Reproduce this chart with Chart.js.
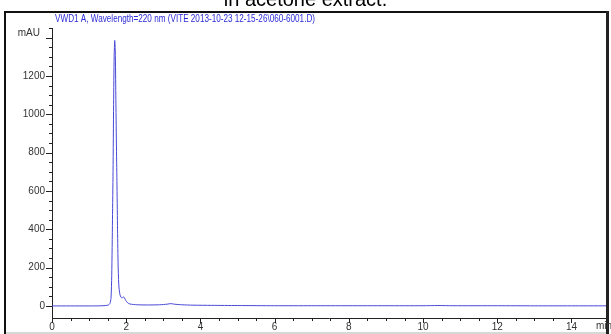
<!DOCTYPE html>
<html>
<head>
<meta charset="utf-8">
<script src="https://cdn.jsdelivr.net/npm/chart.js@4.4.1/dist/chart.umd.min.js"></script>
<style>
  html, body { margin: 0; padding: 0; background: #fff; }
  #wrap { position: relative; width: 611px; height: 334px; overflow: hidden; background: #fff; }
  #caption { position: absolute; left: 0; width: 611px; top: -12px; text-align: center;
             font: 20px "Liberation Sans", Arial, sans-serif; color: #000; z-index: 2; }
  canvas { position: absolute; left: 0; top: 0; }
</style>
</head>
<body>
<div id="wrap">
  <canvas id="chrom" width="611" height="334"></canvas>
  <div id="caption">in acetone extract.</div>
</div>
<script>
// retention time (min) and signal (mAU)
var times = [0, 0.5, 1.0, 1.3, 1.45, 1.52, 1.56, 1.59, 1.61, 1.63, 1.645, 1.66, 1.675, 1.69, 1.705,
             1.72, 1.735, 1.75, 1.765, 1.78, 1.80, 1.83, 1.86, 1.89, 1.92, 1.95, 1.99, 2.04, 2.1,
             2.3, 2.6, 2.9, 3.1, 3.2, 3.3, 3.5, 3.8, 4.3, 5.0, 6.0, 7.0, 8.0, 9.0, 10.0, 10.4,
             10.8, 12.0, 13.0, 14.0, 14.93];
var mau = [0, 0, 0, 0.5, 2, 5, 12, 40, 160, 450, 700, 1050, 1300, 1385, 1330,
           1100, 850, 650, 420, 230, 110, 60, 45, 42, 48, 42, 28, 16, 10,
           6, 5, 6, 9, 12, 9, 6, 4, 3, 2, 1, 1, 1, 1, 1, 2,
           1, 1, 0.5, 0.5, 0.5];

var signalTitle = 'VWD1 A, Wavelength=220 nm (VITE 2013-10-23 12-15-26\\060-6001.D)';
var yMajor = 200, yMinor = 50, yLabelMax = 1200;
var xMajor = 2, xMinor = 0.5;

var points = times.map(function (t, i) { return { x: t, y: mau[i] }; });

function isMultiple(v, step) {
    var r = Math.abs(v / step - Math.round(v / step));
    return r < 1e-6;
}

// the printout frame round the whole plot
var framePlugin = {
    id: 'frame',
    beforeDraw: function (chart) {
        var ctx = chart.ctx;
        ctx.save();
        ctx.fillStyle = '#111';
        ctx.fillRect(4, 11, 603, 2);   // top
        ctx.fillRect(4, 11, 2, 323);   // left
        ctx.fillStyle = '#222';
        ctx.fillRect(606, 11, 3, 323); // right
        ctx.fillStyle = '#d8d8d8';
        ctx.fillRect(6, 332, 600, 2);  // bottom shadow
        ctx.restore();
    }
};

// tick marks with two lengths, plus axis unit labels and signal title
var decorPlugin = {
    id: 'decor',
    afterDraw: function (chart) {
        var ctx = chart.ctx;
        var xs = chart.scales.x, ys = chart.scales.y;
        var area = chart.chartArea;
        ctx.save();
        ctx.strokeStyle = '#222';
        ctx.lineWidth = 1;
        ys.ticks.forEach(function (t) {
            if (!isMultiple(t.value, yMinor)) return;
            var py = Math.round(ys.getPixelForValue(t.value)) + 0.5;
            var len = isMultiple(t.value, yMajor) ? 6 : 3;
            ctx.beginPath();
            ctx.moveTo(area.left - len, py);
            ctx.lineTo(area.left, py);
            ctx.stroke();
        });
        xs.ticks.forEach(function (t) {
            if (!isMultiple(t.value, xMinor)) return;
            var px = Math.round(xs.getPixelForValue(t.value)) + 0.5;
            var len = isMultiple(t.value, xMajor) ? 5 : 3;
            ctx.beginPath();
            ctx.moveTo(px, area.bottom);
            ctx.lineTo(px, area.bottom + len);
            ctx.stroke();
        });

        ctx.fillStyle = '#333';
        ctx.font = '10px "Liberation Sans", Arial, sans-serif';
        ctx.textBaseline = 'middle';
        ctx.textAlign = 'right';
        ctx.fillText('mAU', 40, 33);
        ctx.textAlign = 'left';
        ctx.fillText('min', 596, 326);

        // signal title, squeezed to the width it has in the printout
        ctx.fillStyle = '#2b2bd8';
        ctx.font = '10px "Liberation Sans Narrow", "Liberation Sans", Arial, sans-serif';
        var w = ctx.measureText(signalTitle).width;
        ctx.translate(55, 19);
        ctx.scale(260 / w, 1);
        ctx.textAlign = 'left';
        ctx.fillText(signalTitle, 0, 0);
        ctx.restore();
    }
};

new Chart(document.getElementById('chrom').getContext('2d'), {
    type: 'line',
    data: {
        datasets: [{
            data: points,
            borderColor: 'rgb(72,72,215)',
            borderWidth: 1,
            pointRadius: 0,
            tension: 0.25,
            fill: false
        }]
    },
    options: {
        responsive: false,
        animation: false,
        events: [],
        layout: { padding: { left: 0, top: 28, right: 5, bottom: 0 } },
        plugins: { legend: { display: false }, tooltip: { enabled: false } },
        scales: {
            x: {
                type: 'linear',
                min: 0,
                max: 14.93,
                afterFit: function (s) { s.height = 16; },
                grid: { display: false, drawTicks: false, tickLength: 0 },
                border: { display: true, color: '#222', width: 1 },
                ticks: {
                    stepSize: xMinor,
                    autoSkip: false,
                    maxRotation: 0,
                    padding: 3,
                    color: '#333',
                    font: { family: '"Liberation Sans", Arial, sans-serif', size: 10 },
                    callback: function (v) { return isMultiple(v, xMajor) ? String(v) : ''; }
                }
            },
            y: {
                min: -63,
                max: 1450,
                afterFit: function (s) { s.width = 52; },
                grid: { display: false, drawTicks: false, tickLength: 0 },
                border: { display: true, color: '#222', width: 1 },
                ticks: {
                    stepSize: yMinor,
                    autoSkip: false,
                    padding: 7,
                    color: '#333',
                    font: { family: '"Liberation Sans", Arial, sans-serif', size: 10 },
                    callback: function (v) {
                        return isMultiple(v, yMajor) && v <= yLabelMax ? String(v) : '';
                    }
                }
            }
        }
    },
    plugins: [framePlugin, decorPlugin]
});
</script>
</body>
</html>
